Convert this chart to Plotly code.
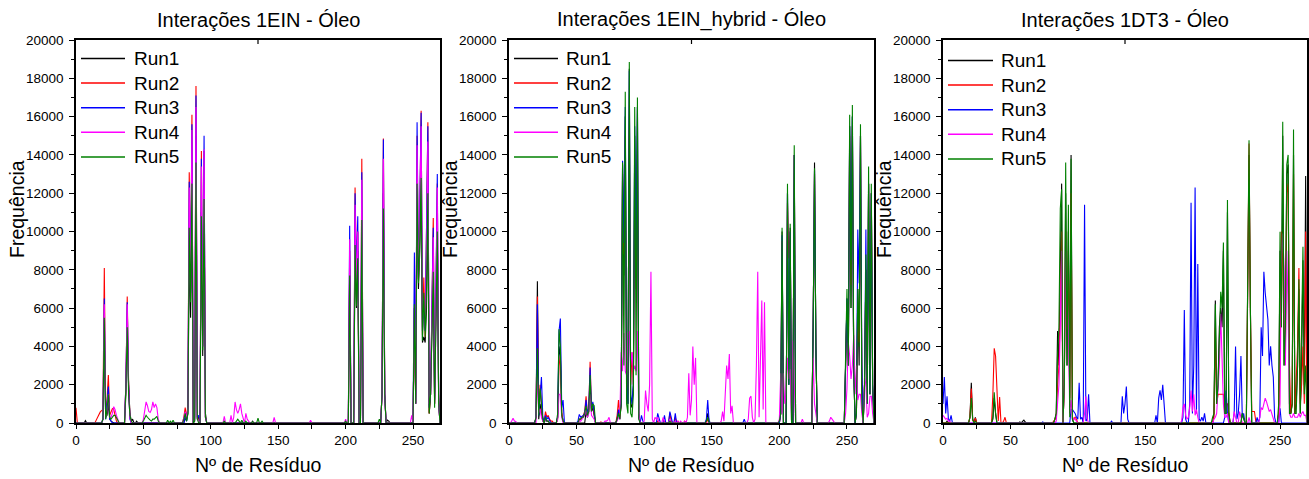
import numpy as np
import plotly.graph_objects as go

# ---------------------------------------------------------------------------
# Contact frequency per residue (residues not listed have zero contacts)
# ---------------------------------------------------------------------------
N_RES = 271
RUN_NAMES = ["Run1", "Run2", "Run3", "Run4", "Run5"]
RUN_COLORS = ["#000000", "#FF0000", "#0000FF", "#FF00FF", "#008000"]
PANEL_TITLES = ["Interações 1EIN - Óleo", "Interações 1EIN_hybrid - Óleo", "Interações 1DT3 - Óleo"]
Y_TICKS = [0, 2000, 4000, 6000, 8000, 10000, 12000, 14000, 16000, 18000, 20000]
X_TICKS = [0, 50, 100, 150, 200, 250]

# ---- 1EIN ----
ein_res = [0, 7, 15, 16, 17, 18, 19, 20, 21, 22,
           23, 24, 25, 26, 27, 28, 29, 30, 31, 37,
           38, 39, 40, 41, 42, 45, 50, 51, 52, 53,
           54, 55, 56, 57, 58, 59, 60, 61, 68, 70,
           72, 80, 81, 82, 83, 84, 85, 86, 88, 89,
           90, 91, 93, 94, 95, 96, 110, 115, 117, 118,
           119, 120, 121, 122, 123, 124, 126, 127, 128, 131,
           135, 138, 147, 174, 200, 203, 207, 208, 209, 212,
           225, 227, 228, 229, 231, 232, 249, 251, 252, 253,
           254, 255, 256, 257, 258, 259, 260, 261, 262, 263,
           264, 265, 266, 267, 268, 269]
ein_run1 = [0, 120, 0, 0, 0, 0, 0, 200, 4300, 300,
            400, 1000, 200, 100, 50, 0, 0, 0, 0, 1500,
            5100, 2000, 500, 100, 200, 100, 0, 0, 0, 0,
            0, 0, 0, 0, 0, 0, 0, 0, 0, 0,
            0, 0, 300, 100, 500, 9000, 5500, 11000, 100, 15000,
            200, 300, 11000, 3500, 11500, 500, 0, 0, 0, 0,
            0, 0, 0, 0, 0, 0, 0, 0, 0, 0,
            0, 0, 0, 0, 0, 8000, 9500, 6000, 9000, 9500,
            0, 1500, 12000, 1500, 150, 100, 0, 6000, 1000, 12000,
            7000, 9000, 12500, 4200, 4500, 4200, 6000, 12000, 500, 1500,
            5000, 8000, 1000, 6000, 10000, 1500]
ein_run2 = [800, 0, 150, 300, 450, 580, 650, 700, 8100, 400,
            1200, 2500, 400, 600, 750, 700, 300, 100, 0, 2000,
            6600, 2200, 300, 0, 0, 0, 0, 0, 0, 0,
            0, 0, 0, 0, 0, 0, 0, 0, 0, 0,
            0, 300, 800, 200, 1000, 13100, 7000, 16100, 300, 17600,
            300, 100, 14200, 4000, 14200, 300, 0, 0, 0, 0,
            0, 0, 0, 0, 0, 0, 0, 0, 0, 0,
            0, 0, 0, 0, 0, 9000, 12300, 7700, 10000, 13800,
            0, 1500, 14850, 1500, 0, 0, 0, 6000, 1000, 15000,
            7500, 11000, 16300, 4600, 7600, 4500, 9000, 15700, 500, 1500,
            6000, 10700, 1000, 7000, 12500, 1000]
ein_run3 = [0, 0, 0, 0, 0, 0, 0, 200, 6500, 200,
            900, 1900, 200, 100, 0, 0, 0, 0, 0, 2000,
            6300, 2000, 200, 0, 0, 0, 0, 0, 0, 0,
            0, 0, 0, 0, 0, 0, 0, 0, 0, 0,
            0, 0, 400, 100, 800, 12600, 6800, 15600, 200, 17100,
            300, 400, 13800, 4000, 15000, 300, 0, 0, 0, 0,
            0, 0, 0, 0, 0, 0, 0, 0, 0, 0,
            0, 0, 0, 0, 0, 10300, 12000, 7500, 10800, 13100,
            0, 1500, 14800, 1500, 0, 0, 0, 8900, 1000, 15700,
            7500, 11000, 16200, 4800, 6000, 4800, 9000, 15500, 800, 1500,
            6000, 10200, 1200, 7000, 13000, 1000]
ein_run4 = [0, 0, 0, 0, 0, 0, 0, 200, 6200, 300,
            600, 1500, 300, 300, 500, 850, 700, 400, 150, 2000,
            6200, 1800, 300, 0, 0, 0, 200, 600, 1100, 900,
            600, 550, 700, 1100, 800, 1000, 800, 200, 0, 0,
            0, 300, 600, 200, 800, 12300, 6500, 15300, 200, 16500,
            200, 100, 13400, 4000, 14300, 300, 350, 400, 300, 1100,
            700, 500, 700, 1000, 500, 200, 500, 200, 100, 100,
            0, 0, 300, 150, 200, 9600, 11400, 7000, 10000, 12700,
            0, 1500, 13800, 1500, 0, 0, 400, 6100, 1000, 14500,
            7500, 10500, 15500, 5000, 6500, 5000, 8500, 14700, 1000, 1500,
            5500, 9700, 1000, 7000, 12300, 1000]
ein_run5 = [0, 0, 0, 0, 0, 0, 0, 200, 5500, 200,
            700, 1500, 300, 200, 300, 400, 400, 300, 150, 1800,
            5000, 1500, 400, 100, 0, 0, 100, 300, 400, 300,
            200, 150, 100, 200, 200, 300, 350, 100, 150, 100,
            150, 200, 500, 100, 500, 10200, 6300, 12500, 100, 13600,
            200, 0, 10800, 3800, 11700, 300, 100, 0, 0, 0,
            100, 200, 100, 0, 150, 0, 100, 0, 0, 100,
            250, 100, 0, 0, 100, 7700, 9300, 6100, 8600, 10600,
            200, 1500, 11200, 1500, 0, 0, 0, 6200, 1000, 12500,
            7300, 9500, 12800, 4300, 6800, 4500, 7000, 12000, 500, 1500,
            4500, 7900, 800, 6000, 10000, 1000]

# ---- 1EIN_hybrid ----
hyb_res = [2, 3, 4, 5, 20, 21, 22, 23, 24, 25,
           26, 27, 28, 29, 30, 31, 32, 36, 37, 38,
           39, 40, 51, 52, 53, 54, 55, 56, 57, 58,
           59, 60, 61, 62, 63, 68, 71, 72, 73, 74,
           80, 81, 82, 83, 84, 85, 86, 87, 88, 89,
           90, 91, 92, 93, 94, 95, 96, 98, 99, 100,
           101, 102, 103, 104, 105, 106, 108, 109, 110, 111,
           114, 115, 119, 120, 123, 125, 127, 130, 132, 133,
           134, 135, 136, 137, 138, 146, 147, 148, 157, 158,
           159, 160, 161, 162, 163, 164, 165, 174, 177, 178,
           179, 180, 182, 183, 184, 185, 186, 187, 188, 189,
           200, 201, 202, 203, 204, 205, 206, 207, 208, 209,
           210, 211, 217, 225, 226, 227, 237, 238, 239, 240,
           249, 250, 251, 252, 253, 254, 255, 256, 257, 258,
           259, 260, 261, 262, 263, 264, 265, 266, 267, 268,
           269]
hyb_run1 = [0, 0, 0, 0, 300, 7400, 200, 1000, 500, 100,
            0, 200, 100, 100, 0, 0, 0, 300, 4000, 3500,
            500, 100, 0, 0, 0, 0, 0, 0, 600, 300,
            600, 2000, 600, 800, 400, 0, 0, 0, 0, 0,
            200, 600, 200, 1000, 13500, 7700, 16000, 2000, 1000, 18500,
            1000, 800, 2000, 15000, 7700, 16500, 500, 0, 0, 0,
            0, 0, 0, 0, 0, 0, 0, 0, 0, 0,
            0, 0, 0, 0, 0, 0, 0, 0, 0, 0,
            0, 0, 0, 0, 0, 100, 500, 100, 0, 0,
            0, 0, 0, 0, 0, 0, 0, 0, 0, 0,
            0, 0, 0, 0, 0, 0, 0, 0, 0, 0,
            0, 500, 10000, 0, 0, 0, 12000, 2000, 10200, 0,
            0, 14000, 0, 5000, 13600, 4000, 0, 0, 0, 0,
            3000, 6500, 3000, 15500, 6000, 16000, 3000, 0, 500, 7000,
            3000, 15000, 2000, 0, 2000, 8000, 1000, 12500, 1500, 12000,
            2000]
hyb_run2 = [0, 0, 0, 0, 300, 6600, 600, 2000, 1000, 200,
            100, 600, 300, 400, 200, 100, 100, 200, 3000, 3500,
            500, 100, 0, 200, 200, 300, 400, 600, 1400, 500,
            700, 3200, 800, 900, 500, 50, 0, 0, 0, 0,
            400, 1200, 300, 1000, 13000, 8800, 15000, 2000, 1500, 15300,
            2000, 3700, 2000, 12000, 7000, 14000, 300, 0, 0, 0,
            0, 0, 0, 0, 0, 0, 0, 0, 100, 0,
            0, 100, 500, 100, 300, 100, 0, 100, 0, 0,
            0, 0, 0, 0, 0, 0, 200, 0, 0, 0,
            0, 0, 0, 0, 0, 0, 0, 0, 0, 0,
            0, 0, 0, 0, 0, 0, 0, 0, 0, 0,
            0, 500, 9500, 0, 0, 0, 11500, 8600, 10000, 0,
            0, 14000, 0, 5000, 13000, 4000, 0, 0, 0, 0,
            3000, 6300, 3000, 15000, 7200, 15500, 3000, 0, 500, 5500,
            4200, 15000, 2000, 0, 2000, 8000, 1000, 12500, 1500, 12000,
            2000]
hyb_run3 = [0, 0, 0, 0, 300, 6200, 400, 1500, 2400, 300,
            100, 400, 200, 300, 100, 0, 0, 300, 4800, 5450,
            800, 1200, 100, 450, 300, 350, 400, 500, 1200, 500,
            800, 2900, 700, 1100, 600, 0, 0, 0, 0, 0,
            200, 700, 500, 1000, 13700, 9400, 16500, 2000, 1000, 18400,
            1500, 1000, 2000, 15500, 8700, 16500, 300, 400, 100, 0,
            0, 0, 0, 0, 0, 0, 0, 0, 500, 200,
            0, 400, 600, 200, 500, 0, 0, 0, 0, 0,
            0, 0, 0, 0, 0, 200, 1200, 100, 0, 0,
            0, 0, 0, 0, 0, 0, 0, 200, 0, 0,
            0, 0, 0, 0, 0, 0, 0, 0, 0, 0,
            0, 500, 9800, 0, 0, 0, 12000, 2000, 10000, 0,
            0, 14000, 0, 5000, 13200, 4000, 0, 0, 0, 0,
            3000, 6500, 3000, 15500, 8500, 16000, 3000, 0, 500, 10100,
            7300, 15000, 3000, 0, 2000, 10100, 1000, 12500, 1500, 12000,
            2000]
hyb_run4 = [100, 250, 100, 80, 0, 2500, 500, 750, 300, 100,
            0, 200, 100, 100, 0, 0, 0, 200, 1500, 1500,
            300, 0, 0, 100, 100, 200, 300, 400, 800, 300,
            500, 1500, 400, 300, 200, 0, 100, 100, 150, 300,
            100, 300, 200, 3700, 2700, 4700, 2700, 2500, 4700, 4800,
            3000, 3700, 2700, 3000, 2700, 4800, 500, 0, 0, 100,
            1700, 1000, 600, 2000, 7900, 200, 300, 200, 300, 0,
            300, 0, 200, 0, 100, 100, 100, 100, 300, 2600,
            400, 1200, 4000, 2000, 3400, 0, 0, 0, 100, 600,
            100, 1500, 3000, 2300, 3600, 500, 900, 0, 200, 1300,
            1400, 300, 200, 3000, 7900, 300, 3200, 6400, 700, 6300,
            200, 2600, 500, 2600, 1000, 1500, 3400, 2300, 2800, 500,
            4300, 1500, 200, 3400, 1000, 500, 100, 300, 200, 100,
            500, 1800, 4200, 3500, 2300, 3000, 4600, 1500, 3000, 1200,
            1500, 1500, 500, 0, 2400, 2000, 300, 500, 1400, 1400,
            500]
hyb_run5 = [0, 0, 0, 0, 300, 3900, 400, 1800, 1000, 200,
            0, 300, 100, 100, 0, 0, 0, 500, 4900, 4000,
            400, 100, 0, 200, 200, 300, 300, 500, 900, 400,
            600, 2500, 600, 1000, 900, 0, 0, 0, 0, 0,
            200, 500, 200, 1000, 13600, 3000, 17300, 1000, 500, 18850,
            500, 300, 1500, 16500, 2500, 17000, 200, 0, 0, 0,
            0, 0, 0, 0, 0, 0, 0, 0, 0, 0,
            0, 0, 100, 0, 0, 0, 0, 0, 0, 0,
            0, 0, 0, 0, 0, 100, 300, 0, 0, 0,
            0, 0, 0, 0, 0, 0, 0, 0, 0, 0,
            0, 0, 0, 0, 0, 0, 0, 0, 0, 0,
            100, 500, 10200, 0, 0, 0, 12500, 2000, 10400, 0,
            0, 14500, 0, 5000, 13300, 4000, 0, 0, 0, 0,
            3500, 7000, 3000, 16100, 6000, 16600, 3000, 0, 500, 7000,
            4000, 15600, 1000, 0, 2000, 8800, 1000, 13400, 1500, 12500,
            2000]

# ---- 1DT3 ----
dt3_res = [0, 1, 2, 3, 4, 5, 6, 20, 21, 22,
           24, 37, 38, 39, 40, 41, 42, 45, 46, 57,
           59, 60, 61, 74, 82, 83, 84, 85, 86, 87,
           88, 90, 91, 92, 93, 94, 95, 96, 97, 98,
           99, 100, 101, 102, 103, 105, 106, 107, 108, 125,
           133, 134, 135, 136, 137, 158, 160, 161, 162, 163,
           164, 177, 178, 179, 180, 181, 182, 183, 184, 185,
           186, 187, 188, 189, 190, 191, 192, 193, 194, 200,
           201, 202, 203, 204, 205, 206, 207, 208, 209, 210,
           211, 212, 216, 217, 218, 219, 220, 221, 222, 223,
           226, 227, 228, 229, 230, 231, 232, 233, 235, 236,
           237, 238, 239, 240, 241, 242, 243, 244, 245, 246,
           249, 250, 251, 252, 253, 254, 255, 256, 257, 258,
           259, 260, 261, 262, 263, 264, 265, 266, 267, 268,
           269]
dt3_run1 = [0, 0, 0, 100, 0, 0, 0, 300, 2100, 200,
            300, 200, 1300, 500, 0, 0, 0, 0, 0, 50,
            80, 150, 50, 0, 0, 200, 500, 4800, 3000, 8000,
            12500, 2000, 12000, 3000, 10000, 1000, 14000, 200, 0, 0,
            0, 0, 0, 0, 0, 0, 0, 0, 0, 0,
            0, 0, 0, 0, 0, 0, 0, 0, 0, 0,
            0, 0, 0, 0, 0, 0, 0, 0, 0, 0,
            0, 0, 0, 0, 0, 0, 0, 0, 0, 0,
            500, 6400, 1000, 2000, 5000, 6000, 5000, 9000, 500, 500,
            11000, 500, 0, 0, 0, 0, 0, 0, 500, 300,
            7000, 14000, 6000, 0, 0, 0, 0, 0, 0, 0,
            0, 0, 0, 0, 0, 0, 0, 0, 0, 0,
            500, 9000, 5000, 15000, 3000, 5000, 13000, 13500, 1000, 500,
            1000, 14000, 500, 1000, 3000, 7000, 500, 3000, 8500, 2000,
            12900]
dt3_run2 = [0, 0, 0, 0, 0, 0, 0, 300, 1800, 200,
            250, 1500, 3900, 3500, 1800, 100, 1350, 100, 300, 0,
            0, 0, 0, 0, 80, 200, 300, 2000, 3000, 6000,
            10000, 2000, 10000, 4900, 9000, 1300, 12000, 300, 200, 300,
            200, 0, 0, 0, 0, 0, 0, 0, 0, 0,
            0, 0, 0, 0, 0, 0, 0, 0, 0, 0,
            0, 0, 0, 0, 0, 0, 0, 0, 0, 0,
            0, 0, 0, 0, 0, 0, 0, 0, 0, 0,
            300, 5000, 1000, 1500, 1500, 1500, 1500, 1500, 500, 1000,
            1000, 500, 0, 0, 0, 0, 0, 0, 0, 0,
            7000, 14600, 6000, 600, 600, 600, 100, 0, 0, 0,
            0, 0, 0, 0, 0, 0, 0, 0, 0, 0,
            500, 3000, 10000, 8600, 5000, 4000, 12000, 12500, 3000, 500,
            1000, 13000, 500, 2100, 4000, 8100, 1000, 2000, 4000, 1000,
            10000]
dt3_run3 = [1000, 2400, 500, 1400, 200, 100, 400, 0, 0, 0,
            0, 0, 0, 0, 0, 0, 0, 0, 0, 0,
            0, 0, 0, 50, 0, 0, 0, 0, 0, 0,
            0, 0, 0, 0, 0, 0, 700, 700, 600, 500,
            300, 200, 2100, 200, 300, 11400, 100, 200, 1500, 100,
            1400, 500, 1000, 1900, 200, 400, 1300, 1700, 1200, 2000,
            1000, 0, 300, 5900, 200, 0, 0, 1000, 11500, 500,
            3000, 12300, 500, 8300, 200, 100, 300, 100, 500, 0,
            0, 0, 0, 0, 0, 0, 0, 0, 300, 1700,
            500, 0, 500, 4000, 200, 500, 1500, 3500, 300, 500,
            0, 0, 0, 0, 0, 0, 0, 300, 300, 5000,
            3500, 7900, 6800, 6000, 5400, 3000, 4000, 3000, 2400, 300,
            0, 770, 0, 0, 0, 0, 0, 0, 0, 0,
            0, 0, 0, 0, 0, 0, 0, 0, 0, 0,
            0]
dt3_run4 = [400, 300, 200, 250, 100, 100, 0, 0, 0, 0,
            0, 0, 0, 0, 0, 0, 0, 0, 0, 0,
            0, 0, 0, 0, 0, 0, 100, 1000, 2000, 5000,
            9000, 2000, 9500, 7300, 5000, 500, 1200, 300, 200, 200,
            100, 0, 0, 0, 0, 500, 1400, 200, 0, 0,
            0, 0, 0, 0, 0, 0, 0, 0, 0, 0,
            0, 100, 800, 1000, 400, 200, 300, 800, 1700, 600,
            1500, 400, 700, 300, 0, 0, 0, 0, 0, 0,
            200, 300, 500, 1500, 3000, 5700, 3500, 1000, 300, 300,
            500, 0, 600, 200, 0, 0, 600, 300, 0, 0,
            0, 300, 0, 0, 0, 0, 0, 0, 300, 800,
            700, 1000, 1300, 1100, 900, 600, 700, 500, 300, 0,
            0, 1000, 8500, 9900, 8100, 3000, 9000, 6000, 500, 300,
            300, 500, 300, 300, 300, 500, 300, 500, 600, 400,
            400]
dt3_run5 = [0, 0, 0, 0, 0, 0, 0, 300, 1300, 200,
            100, 300, 1600, 500, 0, 0, 0, 0, 0, 0,
            0, 0, 0, 0, 0, 200, 500, 3600, 5000, 11200,
            12200, 2000, 13600, 3000, 11400, 300, 13800, 200, 0, 0,
            0, 0, 0, 0, 0, 0, 0, 0, 0, 0,
            0, 0, 0, 0, 0, 0, 0, 0, 0, 0,
            0, 0, 0, 0, 0, 0, 0, 0, 0, 0,
            0, 0, 0, 0, 0, 0, 0, 0, 0, 300,
            500, 6200, 1000, 2000, 5000, 6850, 6000, 9430, 500, 500,
            11640, 500, 0, 0, 0, 0, 0, 0, 500, 300,
            7000, 14770, 6000, 0, 0, 0, 0, 0, 0, 0,
            0, 0, 0, 0, 0, 0, 0, 0, 0, 0,
            1000, 9990, 5000, 15730, 3000, 5000, 13500, 14000, 500, 500,
            1000, 15330, 500, 500, 3000, 7500, 500, 4000, 9200, 1500,
            3000]

panels = [
    (ein_res, [ein_run1, ein_run2, ein_run3, ein_run4, ein_run5]),
    (hyb_res, [hyb_run1, hyb_run2, hyb_run3, hyb_run4, hyb_run5]),
    (dt3_res, [dt3_run1, dt3_run2, dt3_run3, dt3_run4, dt3_run5]),
]

residues = np.arange(N_RES)


def profile(res, vals):
    y = np.zeros(N_RES)
    y[np.asarray(res)] = vals
    return y


# ---------------------------------------------------------------------------
# Layout geometry (pixels of a 1309 x 479 canvas)
# ---------------------------------------------------------------------------
W, H = 1309, 479
PLOT_TOP, PLOT_BOTTOM = 40, 423
panel_px = [(76, 440), (509, 874), (943, 1307)]
legend_px = [(81, 125, 132, 58.5), (514, 558, 564, 58.5), (948, 993, 999, 60.5)]
LEGEND_STEP = 24.6

FONT = "Arial, 'Liberation Sans', sans-serif"


def px_x(x):
    return x / W


def px_y(y):
    return 1 - y / H


fig = go.Figure()

for i, (res, runs) in enumerate(panels):
    axis_id = "" if i == 0 else str(i + 1)
    for name, color, vals in zip(RUN_NAMES, RUN_COLORS, runs):
        fig.add_trace(go.Scatter(
            x=residues, y=profile(res, vals), mode="lines", name=name,
            line=dict(color=color, width=1.1),
            xaxis="x" + axis_id, yaxis="y" + axis_id,
            showlegend=False, hoverinfo="skip",
        ))

axis_common = dict(
    showline=True, linecolor="black", linewidth=1.5, mirror=True,
    showgrid=False, zeroline=False, ticks="outside", tickcolor="black",
    tickwidth=1.2, tickfont=dict(family=FONT, size=13.5, color="black"),
    automargin=False,
)

layout = dict(
    width=W, height=H, margin=dict(l=0, r=0, t=0, b=0),
    paper_bgcolor="white", plot_bgcolor="white", showlegend=False,
    font=dict(family=FONT, color="black"),
)
annotations = []
shapes = []
y_dom = [px_y(PLOT_BOTTOM), px_y(PLOT_TOP)]

for i, (x0, x1) in enumerate(panel_px):
    sfx = "" if i == 0 else str(i + 1)
    layout["xaxis" + sfx] = dict(
        axis_common, domain=[px_x(x0), px_x(x1)], range=[0, 270],
        anchor="y" + sfx, tickvals=X_TICKS, ticklen=4,
        minor=dict(ticks="outside", tickvals=[25, 75, 125, 175, 225],
                   ticklen=4, tickcolor="black", tickwidth=1.2),
    )
    layout["yaxis" + sfx] = dict(
        axis_common, domain=y_dom, range=[0, 20000], anchor="x" + sfx,
        tickvals=Y_TICKS, tickformat="d", ticklen=5, ticklabelstandoff=3,
        minor=dict(ticks="outside", dtick=1000, ticklen=3,
                   tickcolor="black", tickwidth=1.2),
    )
    cx = (x0 + x1) / 2
    # small tick on the top frame, centred on the panel
    shapes.append(dict(
        type="line", xref="paper", yref="paper",
        x0=px_x(cx), x1=px_x(cx), y0=px_y(PLOT_TOP), y1=px_y(PLOT_TOP + 4),
        line=dict(color="black", width=1.2),
    ))
    annotations.append(dict(
        text=PANEL_TITLES[i], x=px_x(cx), y=px_y(19.5), xref="paper", yref="paper",
        showarrow=False, xanchor="center", yanchor="middle",
        font=dict(family=FONT, size=20, color="black"),
    ))
    annotations.append(dict(
        text="Nº de Resíduo", x=px_x(cx), y=px_y(465), xref="paper", yref="paper",
        showarrow=False, xanchor="center", yanchor="middle",
        font=dict(family=FONT, size=19.5, color="black"),
    ))
    annotations.append(dict(
        text="Frequência", x=px_x(x0 - 59), y=px_y(209), xref="paper", yref="paper",
        showarrow=False, xanchor="center", yanchor="middle", textangle=-90,
        font=dict(family=FONT, size=19.5, color="black"),
    ))
    lx0, lx1, tx, ly = legend_px[i]
    for k, (name, color) in enumerate(zip(RUN_NAMES, RUN_COLORS)):
        yy = ly + k * LEGEND_STEP
        shapes.append(dict(
            type="line", xref="paper", yref="paper",
            x0=px_x(lx0), x1=px_x(lx1), y0=px_y(yy), y1=px_y(yy),
            line=dict(color=color, width=1.5),
        ))
        annotations.append(dict(
            text=name, x=px_x(tx), y=px_y(yy), xref="paper", yref="paper",
            showarrow=False, xanchor="left", yanchor="middle",
            font=dict(family=FONT, size=19, color="black"),
        ))

layout["annotations"] = annotations
layout["shapes"] = shapes
fig.update_layout(**layout)

fig.write_html("out.html")
